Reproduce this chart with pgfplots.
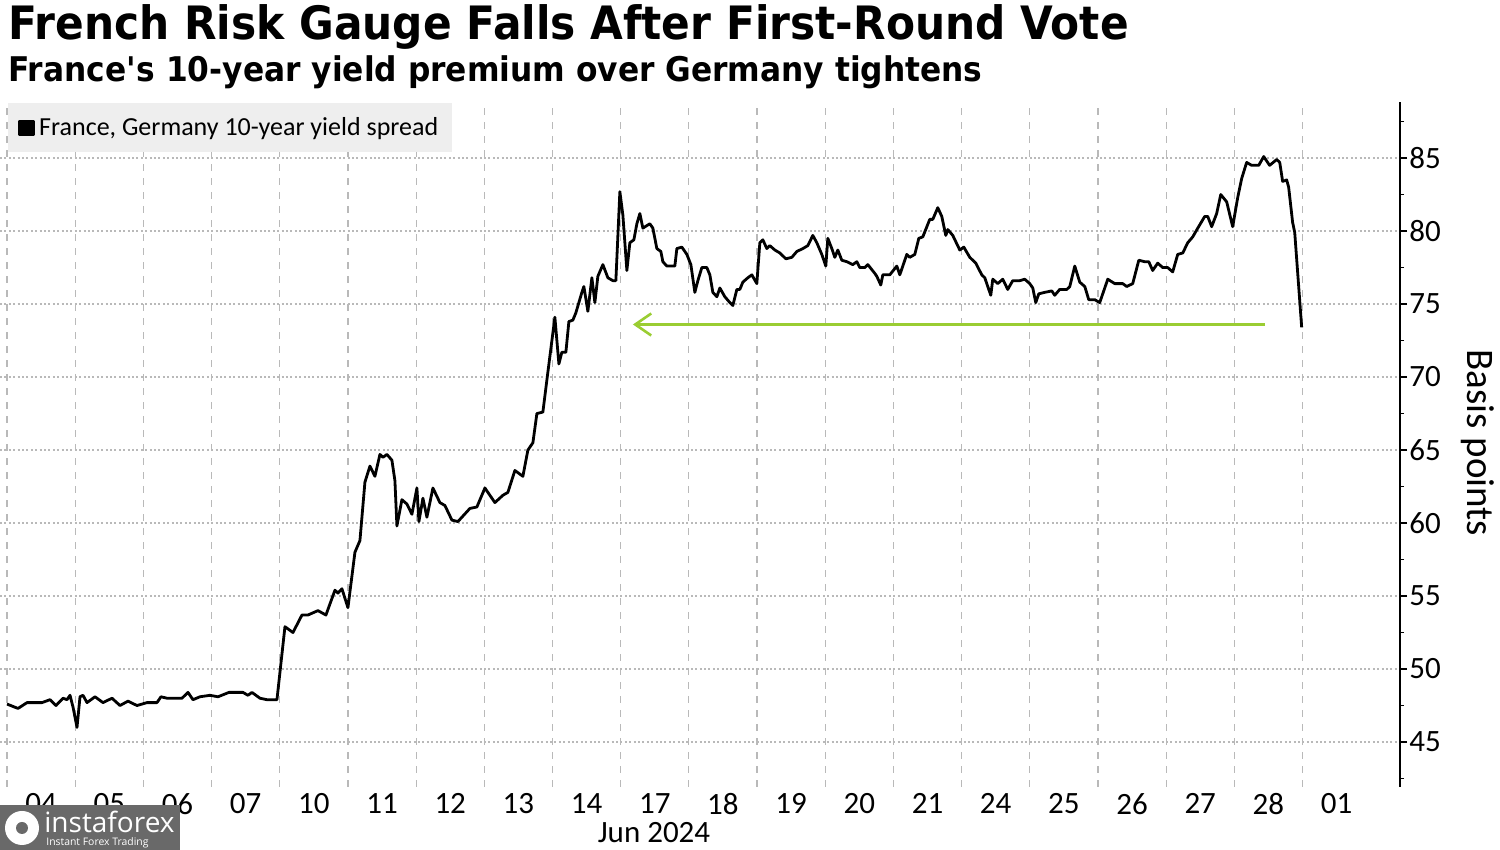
\documentclass[border=0pt]{standalone}
\usepackage{fontspec}
\setmainfont{Carlito}
\newfontfamily\titlefont[FakeStretch=0.92]{DejaVu Sans}
\newfontfamily\wmfont{Open Sans}
\usepackage{pgfplots}
\usepackage{pgfplotstable}
\pgfplotsset{compat=1.18}
\usetikzlibrary{arrows.meta}

\definecolor{arrowgreen}{RGB}{154,205,50}
\definecolor{gridgray}{RGB}{185,185,185}
\definecolor{legendgray}{RGB}{238,238,238}
\definecolor{wmgray}{RGB}{105,105,105}

% France-Germany 10y spread, bp; px = horizontal position
\pgfplotstableread{
px bp
7 47.6
18 47.3
27 47.7
33 47.7
42 47.7
50 47.9
56 47.5
63 48.0
67 47.9
70 48.2
73 47.4
77 46.0
80 48.1
83 48.2
87 47.7
95 48.1
103 47.7
112 48.0
120 47.5
128 47.8
137 47.5
147 47.7
157 47.7
161 48.1
167 48.0
182 48.0
188 48.4
193 47.9
200 48.1
210 48.2
218 48.1
229 48.4
237 48.4
243 48.4
248 48.2
252 48.4
260 48.0
267 47.9
277 47.9
285 52.9
293 52.5
302 53.7
308 53.7
318 54.0
326 53.7
335 55.4
338 55.2
342 55.5
348 54.2
355 58.0
360 58.8
365 62.8
370 63.9
375 63.2
380 64.7
383 64.5
387 64.7
392 64.3
395 62.9
397 59.8
402 61.6
407 61.3
412 60.6
417 62.4
419 60.1
423 61.7
427 60.4
433 62.4
440 61.4
445 61.2
452 60.2
458 60.1
470 61.0
477 61.1
485 62.4
495 61.4
503 61.9
508 62.1
515 63.6
523 63.2
528 65.0
533 65.5
537 67.5
543 67.6
547 69.8
555 74.1
559 70.9
562 71.7
566 71.7
569 73.8
573 73.9
576 74.4
582 75.8
584 76.2
588 74.5
592 76.8
595 75.1
598 76.9
603 77.7
608 76.8
613 76.6
616 76.6
620 82.7
623 81.1
627 77.3
630 79.2
634 79.4
637 80.5
640 81.2
643 80.2
650 80.5
653 80.2
657 78.8
661 78.6
663 77.9
667 77.6
675 77.6
677 78.8
682 78.9
687 78.4
691 77.7
695 75.8
698 76.6
702 77.5
707 77.5
710 77.0
713 75.8
717 75.5
720 76.1
725 75.5
730 75.1
733 74.9
737 76.0
740 76.0
743 76.5
748 76.8
752 77.0
757 76.4
760 79.2
763 79.4
767 78.8
770 79.0
775 78.7
780 78.5
786 78.1
792 78.2
797 78.6
803 78.8
808 79.0
813 79.7
817 79.2
822 78.4
826 77.6
828 79.5
832 78.8
835 78.2
838 78.7
842 78.0
847 77.9
853 77.7
857 77.9
860 77.5
865 77.5
868 77.7
875 77.1
877 76.9
881 76.3
883 77.0
890 77.0
897 77.6
900 77.0
907 78.4
910 78.2
915 78.4
919 79.5
923 79.6
930 80.8
933 80.8
938 81.6
942 81.0
946 79.7
948 80.1
953 79.7
960 78.7
964 78.9
970 78.2
976 77.8
982 77.0
985 76.8
991 75.6
993 76.7
998 76.4
1003 76.7
1008 76.0
1013 76.6
1020 76.6
1025 76.7
1030 76.4
1033 76.1
1036 75.1
1039 75.7
1045 75.8
1052 75.9
1055 75.6
1060 76.0
1067 76.0
1070 76.2
1075 77.6
1080 76.5
1085 76.2
1089 75.3
1095 75.3
1100 75.1
1108 76.7
1115 76.4
1123 76.4
1127 76.2
1133 76.4
1139 78.0
1145 77.9
1149 77.9
1153 77.3
1158 77.8
1163 77.5
1168 77.5
1173 77.2
1178 78.4
1183 78.5
1188 79.2
1193 79.6
1198 80.2
1205 81.0
1208 81.0
1212 80.3
1217 81.2
1221 82.5
1227 82.0
1233 80.3
1238 82.3
1242 83.6
1247 84.7
1252 84.5
1259 84.5
1264 85.1
1270 84.5
1277 84.9
1280 84.7
1283 83.4
1287 83.5
1289 83.0
1293 80.6
1295 79.9
1302 73.4
}\spread

\begin{document}
\begin{tikzpicture}
\useasboundingbox (0,0) rectangle (750pt,425pt);

% titles
\node[anchor=base west, inner sep=0pt, font=\titlefont\bfseries\fontsize{23}{26}\selectfont]
  at (4pt,405pt) {French Risk Gauge Falls After First-Round Vote};
\node[anchor=base west, inner sep=0pt, font=\titlefont\bfseries\fontsize{17}{20}\selectfont]
  at (4pt,384pt) {France\textquotesingle s 10-year yield premium over Germany tightens};

\begin{axis}[
    at={(0pt,31.5pt)}, anchor=south west,
    scale only axis,
    width=700pt, height=342.5pt,
    xmin=-0.103, xmax=20.43,
    ymin=41.92, ymax=88.84,
    axis x line*=bottom,
    axis y line*=right,
    x axis line style={draw=none},
    y axis line style={line width=1pt, black},
    xtick={0.5,1.5,...,19.5},
    xticklabels={04,05,06,07,10,11,12,13,14,17,18,19,20,21,24,25,26,27,28,01},
    xtick style={draw=none},
    xticklabel style={font=\fontsize{15.5}{16}\selectfont, inner sep=0pt, yshift=0.5pt},
    extra x ticks={0,1,...,19},
    extra x tick labels={},
    extra x tick style={grid=major, major grid style={gridgray, line width=0.6pt, dash pattern=on 3.5pt off 3.5pt}},
    ytick={45,50,...,85},
    minor ytick={42.5,47.5,...,87.5},
    ymajorgrids,
    major grid style={gridgray, line width=0.6pt, dash pattern=on 1pt off 1.2pt},
    tick align=outside,
    ytick style={black, line width=0.8pt},
    major tick length=3.5pt,
    minor tick length=2pt,
    yticklabel style={font=\fontsize{15.5}{16}\selectfont, inner sep=0pt, xshift=1pt},
    /pgf/number format/assume math mode=true,
    clip=false,
    legend style={draw=none, fill=legendgray, at={(0.0057,0.9985)}, anchor=north west,
        inner xsep=5pt, inner ysep=5pt, font=\fontsize{13}{15}\selectfont,
        /tikz/every even column/.append style={column sep=0pt}},
    legend cell align=left,
    legend image code/.code={\fill[black] (0pt,-3.5pt) rectangle (7pt,3.5pt);},
]
\addplot[black, line width=1.4pt, line join=round] table[x expr=(\thisrow{px}-7)/68.2, y=bp] {\spread};
\addlegendentry{France, Germany 10-year yield spread}

\draw[arrowgreen, line width=1.3pt, -{Straight Barb[length=8pt,width=11pt,line width=1.3pt]}]
  (axis cs:18.45,73.6) -- (axis cs:9.18,73.6);
\end{axis}

\node[font=\fontsize{15.5}{16}\selectfont, anchor=north, inner sep=0pt] at (327pt,13.8pt) {Jun 2024};
\node[font=\fontsize{19.5}{21}\selectfont, rotate=-90, inner sep=0pt] at (739pt,203.5pt) {Basis points};

% watermark
\fill[wmgray] (0,0) rectangle (90pt,22.5pt);
\fill[white] (11pt,11pt) circle (8.5pt);
\fill[wmgray] (11pt,11pt) circle (3pt);
\node[anchor=base west, inner sep=0pt, text=white, font=\wmfont\fontsize{14}{14}\selectfont] at (22pt,8.5pt) {instaforex};
\node[anchor=base west, inner sep=0pt, text=white, font=\wmfont\fontsize{5.2}{6}\selectfont] at (23pt,2pt) {Instant Forex Trading};
\end{tikzpicture}
\end{document}
